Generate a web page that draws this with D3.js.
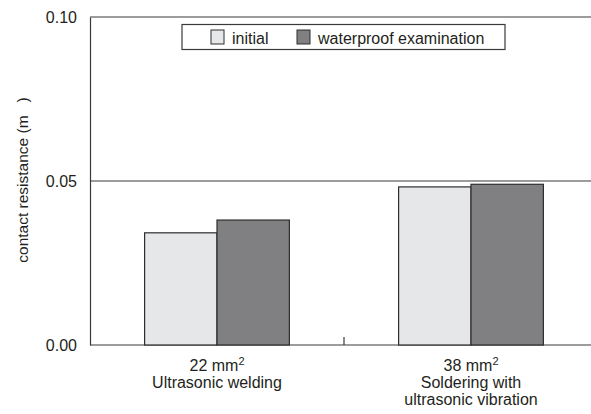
<!DOCTYPE html>
<html>
<head>
<meta charset="utf-8">
<script src="https://cdn.jsdelivr.net/npm/d3@7"></script>
<style>
  html, body { margin: 0; padding: 0; background: #fff; }
  svg { display: block; font-family: "Liberation Sans", Arial, sans-serif; }
</style>
</head>
<body>
<svg id="chart" width="591" height="414"></svg>
<script>
// Joint methods and their wire cross-sections (label lines)
const categories = ["ultrasonic", "soldering"];
const categoryLines = [
  ["22 mm|2", "Ultrasonic welding"],
  ["38 mm|2", "Soldering with", "ultrasonic vibration"]
];
const seriesNames = ["initial", "waterproof examination"];
const initialValues = [0.0342, 0.0482];
const waterproofValues = [0.0381, 0.0490];
const yTicks = [0, 0.05, 0.10];
const yTickLabels = ["0.00", "0.05", "0.10"];

const colors = ["#e6e7e8", "#808083"];
const ink = "#231f20";
const fs = 16;

const svg = d3.select("#chart");
const plotLeft = 90, plotRight = 598, plotTop = 17, plotBottom = 345;

const y = d3.scaleLinear().domain([0, 0.10]).range([plotBottom, plotTop]);
const x0 = d3.scaleBand().domain(categories).range([plotLeft, plotRight]).paddingInner(0.43).paddingOuter(0.215);
const x1 = d3.scaleBand().domain(seriesNames).range([0, x0.bandwidth()]);

// Gridlines at each tick
svg.append("g").selectAll("line").data(yTicks).join("line")
  .attr("x1", plotLeft).attr("x2", 591)
  .attr("y1", d => y(d)).attr("y2", d => y(d))
  .attr("stroke", "#3a3a3a").attr("stroke-width", 1.2);

// Y axis line and labels
const yAxis = d3.axisLeft(y).tickValues(yTicks).tickFormat((d, i) => yTickLabels[i]).tickSize(0).tickPadding(13);
const ya = svg.append("g").attr("transform", `translate(${plotLeft},0)`).call(yAxis);
ya.select(".domain").attr("stroke", "#3a3a3a").attr("stroke-width", 1.2);
ya.selectAll("text").attr("font-size", fs).attr("fill", ink).attr("font-family", "Liberation Sans, Arial, sans-serif");

// Separator tick between the two groups
const mid = (x0(categories[0]) + x0.bandwidth() + x0(categories[1])) / 2;
svg.append("line").attr("x1", mid).attr("x2", mid).attr("y1", plotBottom - 8).attr("y2", plotBottom)
  .attr("stroke", "#3a3a3a").attr("stroke-width", 1.2);

// Bars
const rows = categories.map((c, i) => ({ cat: c, vals: [initialValues[i], waterproofValues[i]] }));
svg.append("g").selectAll("g").data(rows).join("g")
  .attr("transform", d => `translate(${x0(d.cat)},0)`)
  .selectAll("rect").data(d => d.vals.map((v, j) => ({ v, s: seriesNames[j], j })))
  .join("rect")
  .attr("x", d => x1(d.s)).attr("width", x1.bandwidth())
  .attr("y", d => y(d.v)).attr("height", d => plotBottom - y(d.v))
  .attr("fill", d => colors[d.j]).attr("stroke", "#2e2e2e").attr("stroke-width", 1.2);

// Category labels (with superscript for mm²)
rows.forEach((r, i) => {
  const cx = x0(r.cat) + x0.bandwidth() / 2;
  categoryLines[i].forEach((line, k) => {
    const t = svg.append("text").attr("x", cx).attr("y", 371 + k * 17)
      .attr("text-anchor", "middle").attr("font-size", fs).attr("fill", ink);
    const parts = line.split("|");
    t.append("tspan").text(parts[0]);
    if (parts[1]) t.append("tspan").attr("dy", -6).attr("font-size", 11).text(parts[1]);
  });
});

// Y axis title
svg.append("text").attr("transform", "translate(28,180) rotate(-90)")
  .attr("text-anchor", "middle").attr("font-size", 15.5).attr("fill", ink)
  .attr("xml:space", "preserve").style("white-space", "pre")
  .text("contact resistance (m   )");

// Legend
const lg = svg.append("g");
lg.append("rect").attr("x", 182).attr("y", 24.5).attr("width", 323).attr("height", 25)
  .attr("fill", "#fff").attr("stroke", "#3a3a3a").attr("stroke-width", 1.2);
const legendX = [211, 297];
seriesNames.forEach((s, i) => {
  lg.append("rect").attr("x", legendX[i]).attr("y", 30).attr("width", 13).attr("height", 14)
    .attr("fill", colors[i]).attr("stroke", "#2e2e2e").attr("stroke-width", 1);
  lg.append("text").attr("x", legendX[i] + 21).attr("y", 43.5)
    .attr("font-size", fs).attr("fill", ink).text(s);
});
</script>
</body>
</html>
